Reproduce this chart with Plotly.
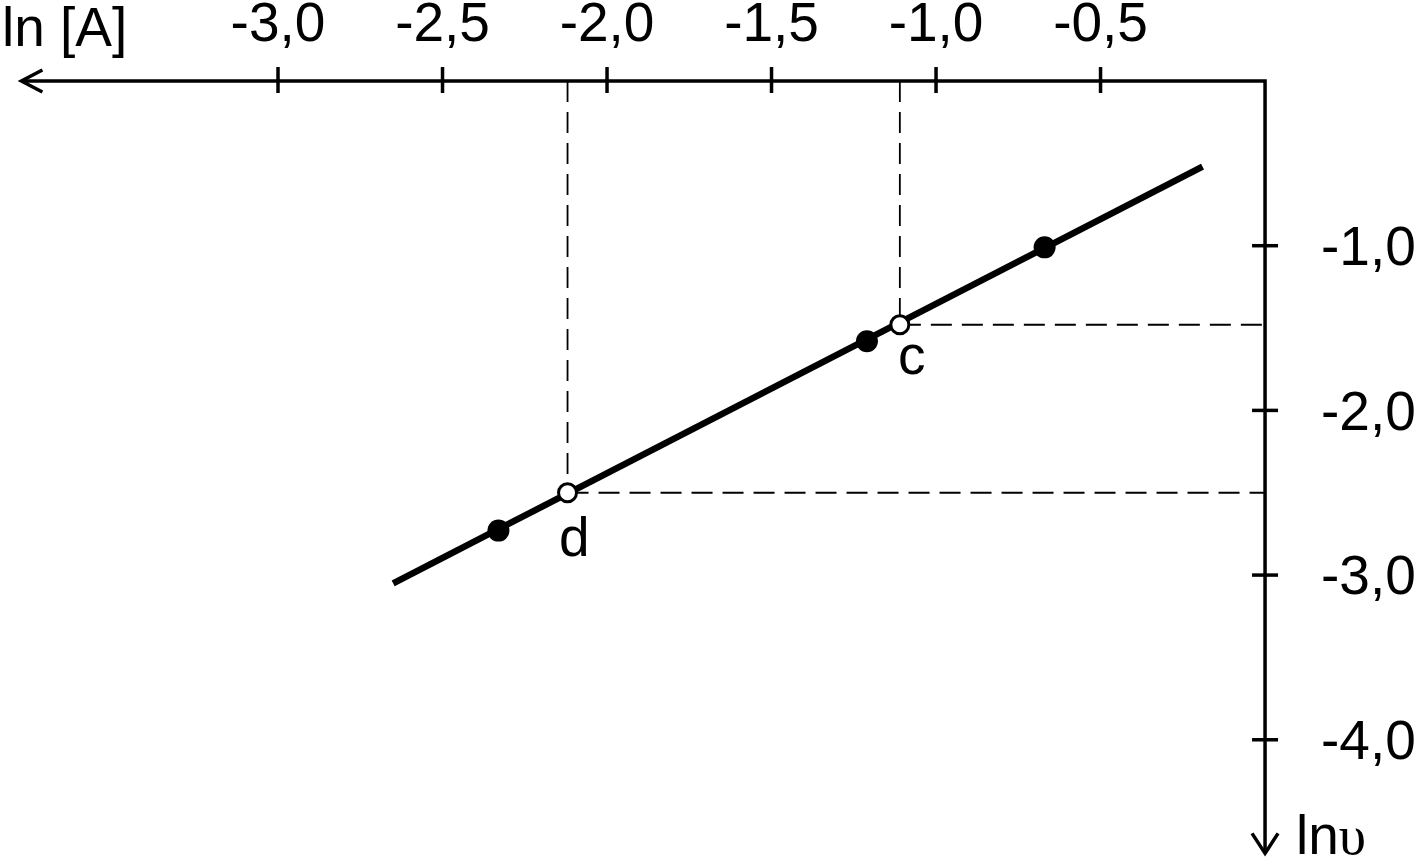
import plotly.graph_objects as go

# ---------------- data ----------------
x_ticks = [-3.0, -2.5, -2.0, -1.5, -1.0, -0.5]
x_tick_labels = ["-3,0", "-2,5", "-2,0", "-1,5", "-1,0", "-0,5"]
y_ticks = [-1.0, -2.0, -3.0, -4.0]
y_tick_labels = ["-1,0", "-2,0", "-3,0", "-4,0"]

line_x = [-2.65, -0.19]
line_y = [-3.05, -0.52]

measured_x = [-2.33, -1.21, -0.67]
measured_y = [-2.73, -1.58, -1.01]

marked_labels = ["c", "d"]
marked_x = [-1.11, -2.12]
marked_y = [-1.48, -2.50]

x_axis_end = -3.78
y_axis_end = -4.69

x_title = "ln [A]"
y_title = 'ln<span style="font-family:Liberation Serif, DejaVu Serif, serif">υ</span>'

# ---------------- layout constants ----------------
W, H = 1421, 859
x_range = [-3.845, 0.474]
y_range = [-4.724, 0.492]
FONT = "Liberation Sans, Arial, sans-serif"
FS = 55
BLACK = "#000000"

fig = go.Figure()

# dashed guide lines from the marked points to the axes
for mx, my in zip(marked_x, marked_y):
    fig.add_trace(go.Scatter(
        x=[mx, mx, None, mx, 0], y=[0, my, None, my, my],
        mode="lines", line=dict(color=BLACK, width=1.8, dash="21px,10px"),
        hoverinfo="skip", showlegend=False))

# regression line
fig.add_trace(go.Scatter(x=line_x, y=line_y, mode="lines",
                         line=dict(color=BLACK, width=6.5),
                         hoverinfo="skip", showlegend=False))

# measured points
fig.add_trace(go.Scatter(x=measured_x, y=measured_y, mode="markers",
                         marker=dict(color=BLACK, size=22),
                         showlegend=False))

# marked (open) points
fig.add_trace(go.Scatter(x=marked_x, y=marked_y, mode="markers",
                         marker=dict(color="white", size=18,
                                     line=dict(color=BLACK, width=3)),
                         showlegend=False))

shapes = []
# axes lines
shapes.append(dict(type="path", xref="x", yref="y",
                   path=f"M {x_axis_end},0 L 0,0 L 0,{y_axis_end}",
                   line=dict(color=BLACK, width=3.5)))
# arrow heads
shapes.append(dict(type="path", xref="x", yref="y",
                   xsizemode="pixel", ysizemode="pixel",
                   xanchor=x_axis_end, yanchor=0,
                   path="M 21,11 L 0,0 L 21,-11",
                   line=dict(color=BLACK, width=3.5)))
shapes.append(dict(type="path", xref="x", yref="y",
                   xsizemode="pixel", ysizemode="pixel",
                   xanchor=0, yanchor=y_axis_end,
                   path="M -13,20 L 0,0 L 13,20",
                   line=dict(color=BLACK, width=3.5)))
# tick marks crossing the axes
for tv in x_ticks:
    shapes.append(dict(type="line", xref="x", yref="y",
                       ysizemode="pixel", yanchor=0,
                       x0=tv, x1=tv, y0=-12, y1=14,
                       line=dict(color=BLACK, width=3.5)))
for tv in y_ticks:
    shapes.append(dict(type="line", xref="x", yref="y",
                       xsizemode="pixel", xanchor=0,
                       x0=-13, x1=13, y0=tv, y1=tv,
                       line=dict(color=BLACK, width=3.5)))

annotations = [
    dict(text=x_title, xref="paper", yref="paper", x=0, y=1,
         xanchor="left", yanchor="middle", xshift=0, yshift=-27,
         showarrow=False, font=dict(family=FONT, size=FS, color=BLACK)),
    dict(text=y_title, xref="x", yref="y", x=0, y=y_axis_end,
         xanchor="left", yanchor="middle", xshift=29, yshift=18,
         showarrow=False, font=dict(family=FONT, size=FS, color=BLACK)),
]
label_shift = {"c": (12, -30), "d": (7, -44)}
for lab, mx, my in zip(marked_labels, marked_x, marked_y):
    dx, dy = label_shift[lab]
    annotations.append(dict(text=lab, xref="x", yref="y", x=mx, y=my,
                            xanchor="center", yanchor="middle",
                            xshift=dx, yshift=dy, showarrow=False,
                            font=dict(family=FONT, size=FS, color=BLACK)))

fig.update_layout(
    width=W, height=H,
    margin=dict(l=0, r=0, t=0, b=0, autoexpand=False),
    paper_bgcolor="white", plot_bgcolor="white",
    shapes=shapes, annotations=annotations,
    xaxis=dict(range=x_range, tickvals=x_ticks, ticktext=x_tick_labels,
               side="top", anchor="free", position=1 - 81 / H,
               automargin=False,
               showline=False, showgrid=False, zeroline=False,
               ticks="outside", ticklen=18, tickcolor="rgba(0,0,0,0)",
               tickfont=dict(family=FONT, size=FS, color=BLACK),
               fixedrange=True),
    yaxis=dict(range=y_range, tickvals=y_ticks, ticktext=y_tick_labels,
               side="right", anchor="free", position=1265 / W,
               automargin=False,
               showline=False, showgrid=False, zeroline=False,
               ticks="outside", ticklen=44, tickcolor="rgba(0,0,0,0)",
               tickfont=dict(family=FONT, size=FS, color=BLACK),
               fixedrange=True),
    showlegend=False,
)

fig.write_html("out.html",
               config={"displayModeBar": False},
               post_script="document.body.style.margin='0';"
                           "document.body.style.overflow='hidden';")
